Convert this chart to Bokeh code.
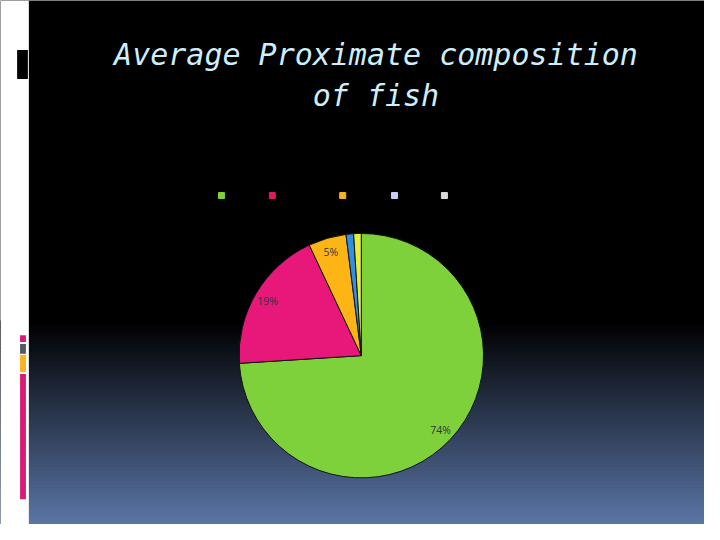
import numpy as np
from bokeh.plotting import figure
from bokeh.models import Range1d
from bokeh.core.properties import value
from bokeh.embed import file_html
from bokeh.resources import INLINE

# ---- data ----
categories = ["Water", "Protein", "Fat", "Minerals", "Carbohydrate"]
values = [74, 19, 5, 1, 1]
slice_colors = ["#7fd13b", "#e8177a", "#fdb515", "#2f8fe0", "#e6ee3c"]
legend_colors = ["#7fd13b", "#d81e5b", "#f8b323", "#c6d0f2", "#d9d9d9"]
title_lines = ["Average Proximate composition", "of fish"]

W, H = 704, 524


def Y(y):  # reference pixel row -> data y (up)
    return 540 - y


p = figure(width=W, height=H, output_backend="svg", toolbar_location=None,
           x_range=Range1d(0, 720), y_range=Range1d(0, 540),
           min_border=0, background_fill_color="black", border_fill_color="black",
           outline_line_color=None)
p.axis.visible = False
p.grid.visible = False

# background gradient (bottom part of slide)
top_c = np.array([0, 0, 0])
bot_c = np.array([0x5b, 0x76, 0xa6])
g0, g1 = 330, 540
n = 60
edges = np.linspace(g0, g1, n + 1)
cols = []
for i in range(n):
    t = (i + 0.5) / n
    c = (top_c + (bot_c - top_c) * t).astype(int)
    cols.append("#%02x%02x%02x" % tuple(c))
p.quad(left=0, right=720, top=[Y(e) for e in edges[:-1]],
       bottom=[Y(e) for e in edges[1:]],
       fill_color=cols, line_color=cols, line_width=1)

# left white strip and decorations
p.quad(left=0, right=29, top=Y(0), bottom=Y(540), fill_color="white", line_color=None)
p.quad(left=17, right=28, top=Y(51), bottom=Y(81), fill_color="black", line_color=None)
deco = [(345, 352, "#d81b74"), (354, 364, "#555a60"), (365, 383, "#f8b320"), (385, 514, "#d81b74")]
for a, b, c in deco:
    p.quad(left=20, right=26, top=Y(a), bottom=Y(b), fill_color=c, line_color=None)

# title
p.text(x=[384, 384], y=[Y(56), Y(98)], text=title_lines,
       text_font=value("DejaVu Sans Mono"), text_font_style="italic",
       text_font_size="30px", text_color="#cfeefb",
       text_align="center", text_baseline="alphabetic")

# pie
cx, cy, R = 369, 366, 125
vals = np.array(values, dtype=float)
frac = vals / vals.sum()
cum = np.concatenate([[0], np.cumsum(frac)])
start = np.pi / 2 - cum[1:] * 2 * np.pi
end = np.pi / 2 - cum[:-1] * 2 * np.pi
p.wedge(x=cx, y=Y(cy), radius=R, start_angle=start, end_angle=end,
        fill_color=slice_colors, line_color="#111111", line_width=1)

# percentage labels (only slices >= 2%)
mid = (start + end) / 2
lab_x, lab_y, lab_t = [], [], []
for f, m in zip(frac, mid):
    if f >= 0.02:
        lab_x.append(cx + 0.89 * R * np.cos(m))
        lab_y.append(Y(cy) + 0.89 * R * np.sin(m))
        lab_t.append("%d%%" % round(f * 100))
p.text(x=lab_x, y=lab_y, text=lab_t, text_font=value("Open Sans"),
       text_font_size="10.5px", text_color="#333333",
       text_align="center", text_baseline="middle")

# legend (markers visible, labels black on black as in the original)
leg_x = [226, 278, 350, 403, 454]
p.scatter(x=leg_x, y=[Y(201)] * len(leg_x), marker="square", size=6,
          fill_color=legend_colors, line_color=legend_colors)
p.text(x=[lx + 6 for lx in leg_x], y=[Y(201)] * len(leg_x), text=categories,
       text_font=value("Open Sans"), text_font_size="9px", text_color="black",
       text_align="left", text_baseline="middle")

open("out.html", "w").write(file_html(p, INLINE))
